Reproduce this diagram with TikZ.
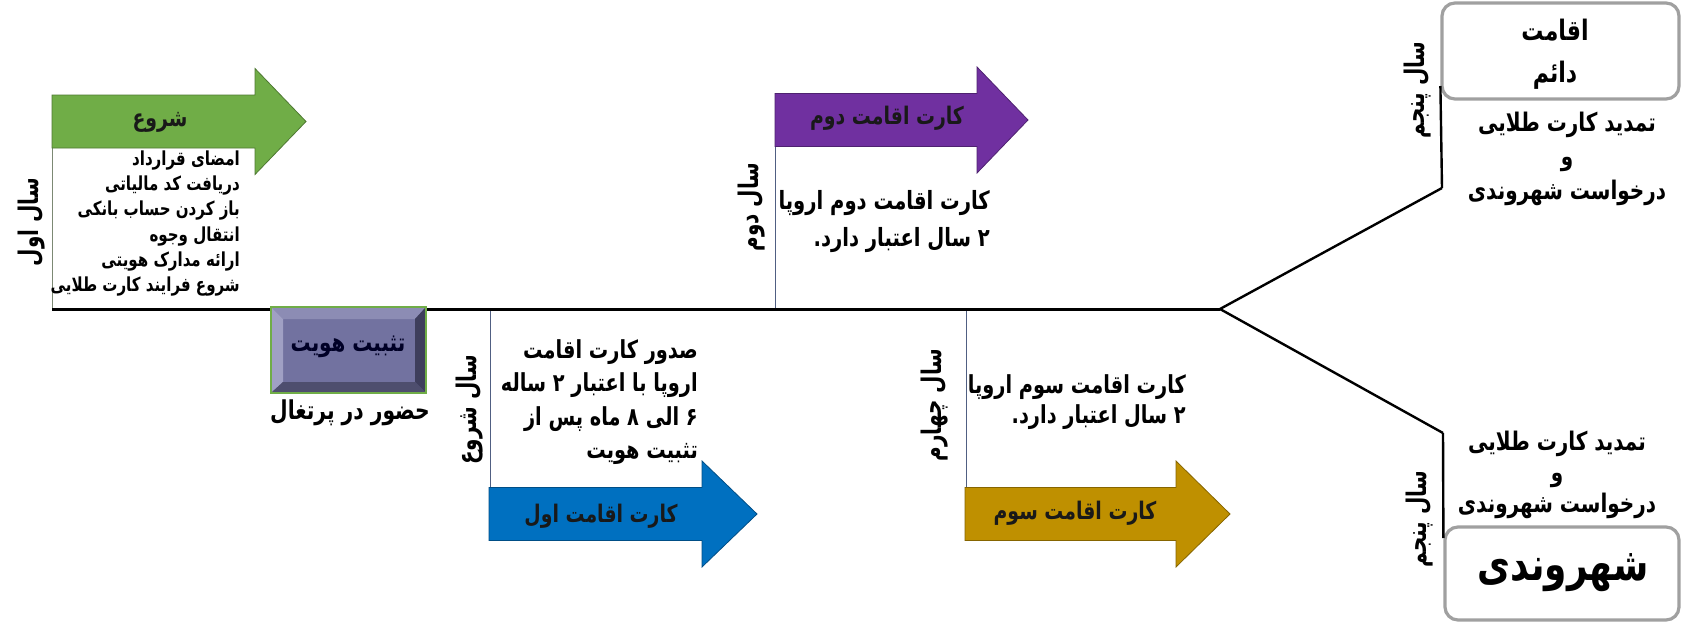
\documentclass[tikz,border=0pt]{standalone}
\usepackage{fontspec}
\usetikzlibrary{calc}
\TeXXeTstate=1
\newfontfamily\arabicfont[Script=Arabic,FakeStretch=0.78]{DejaVu Sans}
\newfontfamily\yearfont[Script=Arabic,FakeStretch=0.74]{DejaVu Sans}
\newcommand\fa[1]{\beginR #1\endR}
\newcommand\fsz[2]{\arabicfont\bfseries\fontsize{#1}{#2}\selectfont}
\newcommand\ysz[2]{\yearfont\bfseries\fontsize{#1}{#2}\selectfont}
\definecolor{cgreen}{RGB}{112,173,71}
\definecolor{cpurple}{RGB}{112,48,160}
\definecolor{cblue}{RGB}{0,112,192}
\definecolor{cgold}{RGB}{191,144,0}
\definecolor{cface}{RGB}{114,114,160}
\definecolor{clight}{RGB}{160,160,196}
\definecolor{clighttop}{RGB}{140,140,180}
\definecolor{cdark}{RGB}{62,62,92}
\definecolor{cdarkb}{RGB}{78,78,110}
\definecolor{cthin}{RGB}{80,95,130}
\definecolor{cbox}{RGB}{160,160,160}
\newcommand\bigarrow[5]{%
  \filldraw[fill=#5, draw=#5!70!black, line width=0.8]
    (#1,#2-26.5) -- (#3,#2-26.5) -- (#3,#2-53) -- (#4,#2) --
    (#3,#2+53) -- (#3,#2+26.5) -- (#1,#2+26.5) -- cycle;}
\begin{document}
\begin{tikzpicture}[x=1pt,y=-1pt,
  txt/.style={inner sep=0pt, align=right, text=black},
  ctxt/.style={inner sep=0pt, align=center, text=black},
  yearlbl/.style={inner sep=0pt, rotate=90, text=black, font=\ysz{27}{30}},
  albl/.style={inner sep=0pt, text=black!90, font=\fsz{24.2}{28}},
  thin/.style={draw=cthin, line width=1},
  main/.style={draw=black, line width=3},
  branch/.style={draw=black, line width=2.4},
  rbox/.style={draw=cbox, line width=3.2, rounded corners=13, fill=white, inner sep=0pt}
]
\useasboundingbox (0,0) rectangle (1682,624);
\fill[white] (0,0) rectangle (1682,624);

% coordinates
\coordinate (t0) at (52,309);
\coordinate (fork) at (1220,309);
\coordinate (gtop) at (52,147);
\coordinate (ptop) at (775,147);
\coordinate (pbot) at (775,309);
\coordinate (stop) at (490,309);
\coordinate (sbot) at (490,487);
\coordinate (ctop) at (966,309);
\coordinate (cbot) at (966,487);
\coordinate (ub) at (1442,188);
\coordinate (lb) at (1443,433);

% thin verticals
\draw[draw=gray!80!cgreen, line width=1] (gtop) -- (t0);
\draw[thin] (ptop) -- (pbot);
\draw[thin] (stop) -- (sbot);
\draw[thin] (ctop) -- (cbot);

% big arrows
\bigarrow{52}{121.5}{255}{306}{cgreen}
\bigarrow{775}{120}{977}{1028}{cpurple}
\bigarrow{489}{514}{702}{757}{cblue}
\bigarrow{965}{514}{1176}{1230}{cgold}

\node[albl] (lstart) at (160,122) {\fa{شروع}};
\node[albl] (lsecond) at (887,118) {\fa{کارت اقامت دوم}};
\node[albl] (lfirst) at (601,516) {\fa{کارت اقامت اول}};
\node[albl] (lthird) at (1075,513) {\fa{کارت اقامت سوم}};

% main timeline and fork
\draw[main] (t0) -- (fork);
\draw[branch] (fork) -- (ub);
\draw[branch] (fork) -- (lb);

% bevel box
\node[draw=cgreen, line width=2, fill=cface, minimum width=153, minimum height=84, inner sep=0pt] (idbox) at (348.5,350) {};
\fill[clighttop] (272,308) -- (425,308) -- (415,319) -- (283,319) -- cycle;
\fill[clight] (272,308) -- (283,319) -- (283,382) -- (272,392) -- cycle;
\fill[cdark] (425,308) -- (425,392) -- (415,382) -- (415,319) -- cycle;
\fill[cdarkb] (272,392) -- (425,392) -- (415,382) -- (283,382) -- cycle;
\draw[draw=cgreen, line width=2] (idbox.north west) rectangle (idbox.south east);
\node[inner sep=0pt, text=black!85!blue, font=\fsz{25.5}{29}] (idlbl) at (348,347) {\fa{تثبیت هویت}};
\node[inner sep=0pt, text=black, font=\fsz{26}{29}] (presence) at (350,413) {\fa{حضور در پرتغال}};

% year labels
\node[yearlbl] (y1) at (32,222) {\fa{سال اول}};
\node[yearlbl] (y0) at (470,410) {\fa{سال شروع}};
\node[yearlbl] (y2) at (752,207) {\fa{سال دوم}};
\node[yearlbl] (y4) at (935,405) {\fa{سال چهارم}};
\node[yearlbl] (y5a) at (1418,90) {\fa{سال پنجم}};
\node[yearlbl] (y5b) at (1420,519) {\fa{سال پنجم}};

% text blocks
\node[txt, anchor=east, font=\fsz{19.3}{25.3}] (list) at (240,223.5)
  {\fa{امضای قرارداد}\\ \fa{دریافت کد مالیاتی}\\ \fa{باز کردن حساب بانکی}\\ \fa{انتقال وجوه}\\ \fa{ارائه مدارک هویتی}\\ \fa{شروع فرایند کارت طلایی}};
\node[txt, anchor=east, font=\fsz{24.8}{33.5}] (first) at (698,402)
  {\fa{صدور کارت اقامت}\\ \fa{اروپا با اعتبار ۲ ساله}\\ \fa{۶ الی ۸ ماه پس از}\\ \fa{تثبیت هویت}};
\node[txt, anchor=east, font=\fsz{25.1}{37}] (second) at (990,221.5)
  {\fa{کارت اقامت دوم اروپا}\\ \fa{۲ سال اعتبار دارد.}};
\node[txt, anchor=east, font=\fsz{24.8}{30}] (third) at (1186,402)
  {\fa{کارت اقامت سوم اروپا}\\ \fa{۲ سال اعتبار دارد.}};

% right boxes
\node[rbox, minimum width=237, minimum height=96] (perm) at (1560.5,51) {};
\node[ctxt, font=\fsz{28.2}{42}] (permlbl) at (1555,54) {\fa{اقامت}\\ \fa{دائم}};
\node[rbox, minimum width=234, minimum height=93] (cit) at (1562,573.5) {};
\node[ctxt, font=\fsz{46}{50}] (citlbl) at (1563,573) {\fa{شهروندی}};
\draw[branch] (ub) -- (perm.west |- 0,86);
\draw[branch] (lb) -- (cit.west |- 0,538);

\node[ctxt, font=\fsz{25.6}{34}] (upnote) at (1567,159)
  {\fa{تمدید کارت طلایی}\\ \fa{و}\\ \fa{درخواست شهروندی}};
\node[ctxt, font=\fsz{25.6}{31}] (lownote) at (1557,475)
  {\fa{تمدید کارت طلایی}\\ \fa{و}\\ \fa{درخواست شهروندی}};
\end{tikzpicture}
\end{document}
